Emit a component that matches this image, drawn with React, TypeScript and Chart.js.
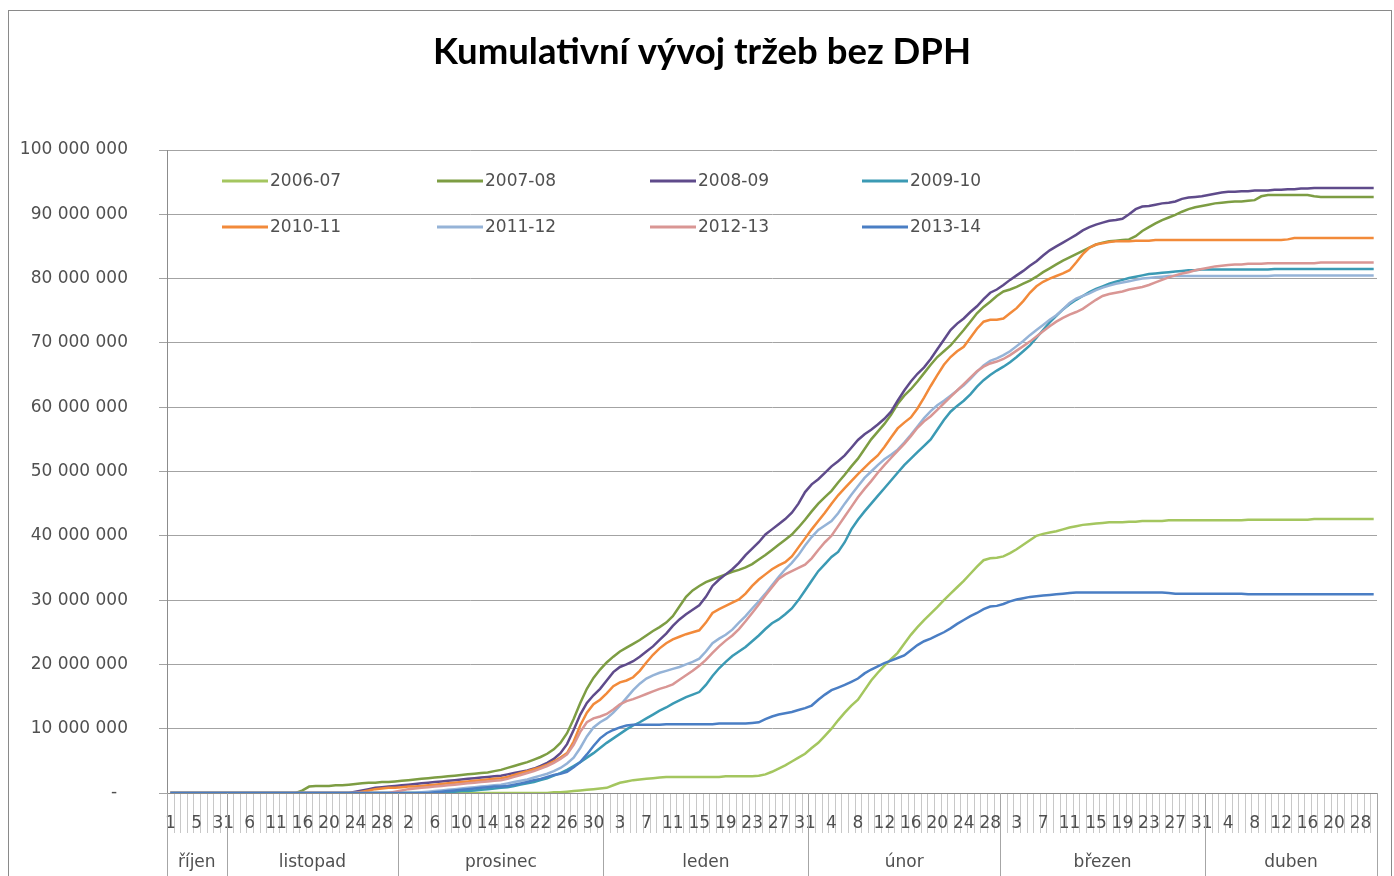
import { useEffect, useRef } from 'react';
import { Chart, registerables } from 'chart.js';

Chart.register(...registerables);

const TITLE = 'Kumulativní vývoj tržeb bez DPH';
const FONT = '"DejaVu Sans", sans-serif';
const TEXT_COLOR = '#505050';

const monthNames = ['říjen', 'listopad', 'prosinec', 'leden', 'únor', 'březen', 'duben'];
const octDays = [1, 2, 3, 4, 5, 6, 7, 8, 31];
const novDays = [2, 3, 5, 6, 7, 8, 9, 11, 12, 13, 14, 16, 17, 18, 19, 20, 21, 22, 23, 24, 25, 26, 27, 28, 29, 30];
const decDays = [1, 2, 3, 4, 5, 6, 7, 8, 9, 10, 11, 12, 13, 14, 15, 16, 17, 18, 19, 20, 21, 22, 23, 24, 25, 26, 27, 28, 29, 30, 31];
const janDays = [1, 2, 3, 4, 5, 6, 7, 8, 9, 10, 11, 12, 13, 14, 15, 16, 17, 18, 19, 20, 21, 22, 23, 24, 25, 26, 27, 28, 29, 30, 31];
const febDays = [1, 2, 3, 4, 5, 6, 7, 8, 9, 10, 11, 12, 13, 14, 15, 16, 17, 18, 19, 20, 21, 22, 23, 24, 25, 26, 27, 28, 29];
const marDays = [1, 2, 3, 4, 5, 6, 7, 8, 9, 10, 11, 12, 13, 14, 15, 16, 17, 18, 19, 20, 21, 22, 23, 24, 25, 26, 27, 28, 29, 30, 31];
const aprDays = [1, 2, 3, 4, 5, 6, 7, 8, 9, 10, 11, 12, 13, 14, 15, 16, 17, 18, 19, 20, 22, 24, 26, 28, 29, 30];
const daysByMonth = [octDays, novDays, decDays, janDays, febDays, marDays, aprDays];
const dayLabels = daysByMonth.flat().map(String);
const LABEL_EVERY = 4;

const seasonNames = ['2006-07', '2007-08', '2008-09', '2009-10', '2010-11', '2011-12', '2012-13', '2013-14'];
const seasonColors = ['#a4c65f', '#7d9d43', '#5f4b8b', '#3b9ab4', '#f28a3a', '#95b3d7', '#d99694', '#4a7ec4'];

// values in millions CZK, one per category (říjen 9, listopad 26, prosinec 31, leden 31, únor 29, březen 31, duben 26)
const s0607 = [
  0, 0, 0, 0, 0, 0, 0, 0, 0,
  0, 0, 0, 0, 0, 0, 0, 0, 0, 0, 0, 0, 0, 0, 0, 0, 0, 0, 0, 0, 0, 0, 0, 0, 0, 0,
  0, 0, 0, 0, 0, 0, 0, 0, 0, 0, 0, 0, 0, 0, 0, 0, 0, 0, 0, 0, 0, 0, 0, 0.1, 0.1, 0.2, 0.3, 0.4, 0.5, 0.6, 0.7,
  0.8, 1.2, 1.6, 1.8, 2.0, 2.1, 2.2, 2.3, 2.4, 2.5, 2.5, 2.5, 2.5, 2.5, 2.5, 2.5, 2.5, 2.5, 2.6, 2.6, 2.6, 2.6, 2.6, 2.7, 2.9, 3.3, 3.8, 4.3, 4.9, 5.5, 6.1,
  7.0, 7.8, 8.9, 10.0, 11.3, 12.5, 13.6, 14.5, 16.0, 17.5, 18.7, 19.8, 20.8, 21.8, 23.2, 24.6, 25.8, 26.9, 27.9, 28.9, 30.0, 31.0, 32.0, 33.0, 34.1, 35.2, 36.2, 36.5, 36.6,
  36.8, 37.3, 37.9, 38.6, 39.3, 40.0, 40.3, 40.5, 40.7, 41.0, 41.3, 41.5, 41.7, 41.8, 41.9, 42.0, 42.1, 42.1, 42.1, 42.2, 42.2, 42.3, 42.3, 42.3, 42.3, 42.4, 42.4, 42.4, 42.4, 42.4, 42.4,
  42.4, 42.4, 42.4, 42.4, 42.4, 42.4, 42.5, 42.5, 42.5, 42.5, 42.5, 42.5, 42.5, 42.5, 42.5, 42.5, 42.6, 42.6, 42.6, 42.6, 42.6, 42.6, 42.6, 42.6, 42.6, 42.6,
];
const s0708 = [
  0, 0, 0, 0, 0, 0, 0, 0, 0,
  0, 0, 0, 0, 0, 0, 0, 0, 0, 0, 0, 0.4, 1.0, 1.1, 1.1, 1.1, 1.2, 1.2, 1.3, 1.4, 1.5, 1.6, 1.6, 1.7, 1.7, 1.8,
  1.9, 2.0, 2.1, 2.2, 2.3, 2.4, 2.5, 2.6, 2.7, 2.8, 2.9, 3.0, 3.1, 3.2, 3.4, 3.6, 3.9, 4.2, 4.5, 4.8, 5.2, 5.6, 6.1, 6.8, 7.8, 9.3, 11.5, 14.0, 16.2, 17.9, 19.2,
  20.3, 21.2, 22.0, 22.6, 23.2, 23.8, 24.5, 25.2, 25.8, 26.5, 27.5, 29.0, 30.5, 31.5, 32.2, 32.8, 33.2, 33.6, 34.0, 34.4, 34.7, 35.1, 35.6, 36.3, 37.0, 37.8, 38.6, 39.4, 40.2, 41.3, 42.5,
  43.8, 45.0, 46.0, 47.0, 48.3, 49.5, 50.8, 52.0, 53.5, 55.0, 56.2, 57.4, 58.8, 60.5, 61.8, 62.8, 64.0, 65.3, 66.6, 67.8, 68.7, 69.6, 70.8, 72.0, 73.3, 74.6, 75.6, 76.4, 77.3,
  78.0, 78.3, 78.7, 79.2, 79.7, 80.3, 81.0, 81.6, 82.2, 82.8, 83.3, 83.8, 84.3, 84.8, 85.3, 85.6, 85.8, 85.9, 86.0, 86.1, 86.6, 87.4, 88.0, 88.6, 89.1, 89.5, 89.9, 90.4, 90.8, 91.1, 91.3,
  91.5, 91.7, 91.8, 91.9, 92.0, 92.0, 92.1, 92.2, 92.8, 93.0, 93.0, 93.0, 93.0, 93.0, 93.0, 93.0, 92.8, 92.7, 92.7, 92.7, 92.7, 92.7, 92.7, 92.7, 92.7, 92.7,
];
const s0809 = [
  0, 0, 0, 0, 0, 0, 0, 0, 0,
  0, 0, 0, 0, 0, 0, 0, 0, 0, 0, 0, 0, 0, 0, 0, 0, 0, 0, 0, 0.2, 0.4, 0.6, 0.8, 0.9, 1.0, 1.1,
  1.2, 1.3, 1.4, 1.5, 1.6, 1.7, 1.8, 1.9, 2.0, 2.1, 2.2, 2.3, 2.4, 2.5, 2.6, 2.7, 2.9, 3.1, 3.3, 3.5, 3.8, 4.2, 4.7, 5.3, 6.2, 7.6, 9.8, 12.2, 14.0, 15.2, 16.2,
  17.5, 18.8, 19.6, 20.0, 20.5, 21.2, 22.0, 22.8, 23.8, 24.8, 26.0, 27.0, 27.8, 28.5, 29.2, 30.5, 32.2, 33.2, 34.0, 34.8, 35.8, 37.0, 38.0, 39.0, 40.2, 41.0, 41.8, 42.6, 43.6, 45.0, 46.8,
  48.0, 48.8, 49.8, 50.8, 51.6, 52.5, 53.7, 54.9, 55.8, 56.5, 57.3, 58.2, 59.3, 61.0, 62.6, 64.0, 65.2, 66.2, 67.5, 69.0, 70.5, 72.0, 73.0, 73.8, 74.8, 75.7, 76.8, 77.8, 78.3,
  79.0, 79.8, 80.5, 81.2, 82.0, 82.7, 83.6, 84.4, 85.0, 85.6, 86.2, 86.8, 87.5, 88.0, 88.4, 88.7, 89.0, 89.1, 89.3, 90.0, 90.8, 91.2, 91.3, 91.5, 91.7, 91.8, 92.0, 92.4, 92.6, 92.7, 92.8,
  93.0, 93.2, 93.4, 93.5, 93.5, 93.6, 93.6, 93.7, 93.7, 93.7, 93.8, 93.8, 93.9, 93.9, 94.0, 94.0, 94.1, 94.1, 94.1, 94.1, 94.1, 94.1, 94.1, 94.1, 94.1, 94.1,
];
const s0910 = [
  0, 0, 0, 0, 0, 0, 0, 0, 0,
  0, 0, 0, 0, 0, 0, 0, 0, 0, 0, 0, 0, 0, 0, 0, 0, 0, 0, 0, 0, 0, 0, 0, 0, 0, 0,
  0, 0, 0, 0, 0, 0.1, 0.1, 0.2, 0.2, 0.3, 0.3, 0.4, 0.5, 0.6, 0.7, 0.8, 0.9, 1.1, 1.3, 1.5, 1.7, 2.0, 2.3, 2.7, 3.1, 3.6, 4.2, 4.8, 5.5, 6.2, 7.0,
  7.8, 8.5, 9.2, 9.9, 10.5, 11.0, 11.6, 12.2, 12.8, 13.3, 13.9, 14.4, 14.9, 15.3, 15.7, 16.8, 18.2, 19.4, 20.4, 21.3, 22.0, 22.7, 23.6, 24.5, 25.5, 26.4, 27.0, 27.8, 28.7, 30.0, 31.5,
  33.0, 34.5, 35.6, 36.7, 37.5, 39.0, 41.0, 42.5, 43.8, 45.0, 46.2, 47.4, 48.6, 49.8, 51.0, 52.0, 53.0, 54.0, 55.0, 56.5, 58.0, 59.3, 60.2, 61.0, 62.0, 63.2, 64.2, 65.0, 65.7,
  66.3, 67.0, 67.8, 68.7, 69.6, 70.8, 72.0, 73.2, 74.2, 75.2, 76.0, 76.7, 77.3, 77.9, 78.4, 78.8, 79.2, 79.5, 79.8, 80.1, 80.3, 80.5, 80.7, 80.8, 80.9, 81.0, 81.1, 81.2, 81.3, 81.3, 81.4,
  81.4, 81.4, 81.4, 81.4, 81.4, 81.4, 81.4, 81.4, 81.4, 81.4, 81.5, 81.5, 81.5, 81.5, 81.5, 81.5, 81.5, 81.5, 81.5, 81.5, 81.5, 81.5, 81.5, 81.5, 81.5, 81.5,
];
const s1011 = [
  0, 0, 0, 0, 0, 0, 0, 0, 0,
  0, 0, 0, 0, 0, 0, 0, 0, 0, 0, 0, 0, 0, 0, 0, 0, 0, 0, 0, 0, 0.2, 0.4, 0.6, 0.7, 0.8, 0.8,
  0.9, 1.0, 1.0, 1.1, 1.2, 1.3, 1.4, 1.5, 1.6, 1.7, 1.8, 1.9, 2.0, 2.1, 2.2, 2.3, 2.5, 2.8, 3.1, 3.4, 3.7, 4.0, 4.4, 4.9, 5.5, 6.2, 8.0, 10.5, 12.5, 13.8, 14.5,
  15.5, 16.6, 17.2, 17.5, 18.0, 19.0, 20.3, 21.5, 22.5, 23.3, 23.9, 24.3, 24.7, 25.0, 25.3, 26.5, 28.0, 28.6, 29.1, 29.6, 30.1, 31.0, 32.2, 33.2, 34.0, 34.8, 35.4, 35.9, 36.8, 38.2, 39.6,
  41.0, 42.3, 43.6, 45.0, 46.3, 47.4, 48.5, 49.6, 50.6, 51.6, 52.5, 53.8, 55.3, 56.7, 57.6, 58.4, 59.8, 61.5, 63.3, 65.0, 66.6, 67.8, 68.7, 69.4, 70.8, 72.2, 73.3, 73.6, 73.6,
  73.8, 74.6, 75.4, 76.5, 77.8, 78.8, 79.5, 80.0, 80.4, 80.8, 81.3, 82.5, 83.8, 84.8, 85.3, 85.5, 85.7, 85.8, 85.8, 85.8, 85.9, 85.9, 85.9, 86.0, 86.0, 86.0, 86.0, 86.0, 86.0, 86.0, 86.0,
  86.0, 86.0, 86.0, 86.0, 86.0, 86.0, 86.0, 86.0, 86.0, 86.0, 86.0, 86.0, 86.1, 86.3, 86.3, 86.3, 86.3, 86.3, 86.3, 86.3, 86.3, 86.3, 86.3, 86.3, 86.3, 86.3,
];
const s1112 = [
  0, 0, 0, 0, 0, 0, 0, 0, 0,
  0, 0, 0, 0, 0, 0, 0, 0, 0, 0, 0, 0, 0, 0, 0, 0, 0, 0, 0, 0, 0, 0, 0, 0, 0, 0,
  0, 0, 0, 0.1, 0.2, 0.3, 0.4, 0.5, 0.6, 0.7, 0.8, 0.9, 1.0, 1.1, 1.2, 1.3, 1.5, 1.7, 1.9, 2.1, 2.4, 2.7, 3.0, 3.4, 3.9, 4.6, 5.5, 7.0, 8.8, 10.2, 11.0,
  11.6, 12.5, 13.6, 14.8, 16.0, 17.0, 17.8, 18.3, 18.7, 19.0, 19.3, 19.6, 20.0, 20.4, 20.9, 22.0, 23.3, 24.0, 24.6, 25.4, 26.5, 27.5, 28.7, 29.8, 31.0, 32.3, 33.6, 34.8, 35.8, 37.0, 38.5,
  39.8, 40.9, 41.6, 42.3, 43.5, 45.0, 46.4, 47.7, 49.0, 50.0, 51.0, 51.9, 52.6, 53.4, 54.5, 55.7, 57.0, 58.3, 59.4, 60.3, 61.0, 61.8, 62.6, 63.4, 64.4, 65.5, 66.5, 67.2, 67.6,
  68.1, 68.7, 69.5, 70.3, 71.2, 72.0, 72.8, 73.6, 74.3, 75.2, 76.2, 76.9, 77.3, 77.7, 78.2, 78.6, 78.9, 79.2, 79.4, 79.6, 79.8, 80.0, 80.1, 80.2, 80.3, 80.4, 80.4, 80.4, 80.4, 80.4, 80.4,
  80.4, 80.4, 80.4, 80.4, 80.4, 80.4, 80.4, 80.4, 80.4, 80.4, 80.5, 80.5, 80.5, 80.5, 80.5, 80.5, 80.5, 80.5, 80.5, 80.5, 80.5, 80.5, 80.5, 80.5, 80.5, 80.5,
];
const s1213 = [
  0, 0, 0, 0, 0, 0, 0, 0, 0,
  0, 0, 0, 0, 0, 0, 0, 0, 0, 0, 0, 0, 0, 0, 0, 0, 0, 0, 0, 0, 0, 0, 0, 0, 0, 0.2,
  0.4, 0.6, 0.7, 0.8, 0.9, 1.0, 1.1, 1.2, 1.3, 1.4, 1.5, 1.6, 1.7, 1.8, 1.9, 2.0, 2.2, 2.5, 2.8, 3.1, 3.4, 3.8, 4.2, 4.7, 5.3, 6.0, 7.5, 9.5, 11.0, 11.6, 11.9,
  12.3, 13.0, 13.8, 14.3, 14.6, 15.0, 15.4, 15.8, 16.2, 16.5, 16.9, 17.6, 18.3, 19.0, 19.8, 20.7, 21.8, 22.8, 23.7, 24.5, 25.5, 26.7, 28.0, 29.3, 30.7, 32.0, 33.3, 34.0, 34.5, 35.0, 35.5,
  36.5, 37.8, 39.0, 40.0, 41.5, 43.0, 44.5, 46.0, 47.3, 48.5, 49.8, 51.0, 52.1, 53.2, 54.3, 55.5, 56.8, 57.8, 58.6, 59.6, 60.6, 61.6, 62.6, 63.6, 64.6, 65.6, 66.3, 66.8, 67.1,
  67.5, 68.1, 68.8, 69.5, 70.2, 71.0, 71.8, 72.6, 73.3, 73.9, 74.4, 74.8, 75.3, 76.0, 76.7, 77.3, 77.6, 77.8, 78.0, 78.3, 78.5, 78.7, 79.0, 79.4, 79.8, 80.2, 80.5, 80.8, 81.0, 81.3, 81.5,
  81.7, 81.9, 82.0, 82.1, 82.2, 82.2, 82.3, 82.3, 82.3, 82.4, 82.4, 82.4, 82.4, 82.4, 82.4, 82.4, 82.4, 82.5, 82.5, 82.5, 82.5, 82.5, 82.5, 82.5, 82.5, 82.5,
];
const s1314 = [
  0, 0, 0, 0, 0, 0, 0, 0, 0,
  0, 0, 0, 0, 0, 0, 0, 0, 0, 0, 0, 0, 0, 0, 0, 0, 0, 0, 0, 0, 0, 0, 0, 0, 0, 0,
  0, 0, 0, 0, 0, 0.1, 0.2, 0.3, 0.4, 0.5, 0.6, 0.7, 0.8, 0.9, 1.0, 1.0, 1.1, 1.3, 1.5, 1.7, 2.0, 2.2, 2.5, 2.8, 3.0, 3.3, 4.0, 4.8, 6.0, 7.3, 8.5,
  9.3, 9.8, 10.2, 10.5, 10.6, 10.6, 10.6, 10.6, 10.6, 10.7, 10.7, 10.7, 10.7, 10.7, 10.7, 10.7, 10.7, 10.8, 10.8, 10.8, 10.8, 10.8, 10.9, 11.0, 11.5, 11.9, 12.2, 12.4, 12.6, 12.9, 13.2,
  13.6, 14.5, 15.3, 16.0, 16.4, 16.8, 17.3, 17.8, 18.6, 19.2, 19.7, 20.2, 20.6, 21.0, 21.4, 22.2, 23.0, 23.6, 24.0, 24.5, 25.0, 25.6, 26.3, 26.9, 27.5, 28.0, 28.6, 29.0, 29.1,
  29.4, 29.8, 30.1, 30.3, 30.5, 30.6, 30.7, 30.8, 30.9, 31.0, 31.1, 31.2, 31.2, 31.2, 31.2, 31.2, 31.2, 31.2, 31.2, 31.2, 31.2, 31.2, 31.2, 31.2, 31.2, 31.1, 31.0, 31.0, 31.0, 31.0, 31.0,
  31.0, 31.0, 31.0, 31.0, 31.0, 31.0, 30.9, 30.9, 30.9, 30.9, 30.9, 30.9, 30.9, 30.9, 30.9, 30.9, 30.9, 30.9, 30.9, 30.9, 30.9, 30.9, 30.9, 30.9, 30.9, 30.9,
];
const seasonValues = [s0607, s0708, s0809, s0910, s1011, s1112, s1213, s1314];

const yTickStep = 10000000;
const yMax = 100000000;

function formatThousands(v: number): string {
  if (v === 0) return '-\u00a0\u00a0';
  return String(Math.round(v)).replace(/\B(?=(\d{3})+(?!\d))/g, ' ');
}

const decorPlugin = {
  id: 'excelDecor',
  beforeDraw(chart: any) {
    const { ctx, chartArea, scales } = chart;
    const x = scales.x;
    const n = dayLabels.length;
    const w = (chartArea.right - chartArea.left) / n;
    const y0 = chartArea.bottom;
    ctx.save();
    // outer frame
    ctx.strokeStyle = '#8a8a8a';
    ctx.lineWidth = 1;
    ctx.strokeRect(8.5, 10.5, 1383, 900);
    // title
    ctx.fillStyle = '#000';
    ctx.font = 'bold 36.5px Lato, sans-serif';
    ctx.textAlign = 'center';
    ctx.textBaseline = 'alphabetic';
    ctx.fillText(TITLE, 702, 64);
    // category tick lines
    ctx.strokeStyle = '#c8c8c8';
    ctx.beginPath();
    for (let i = 0; i <= n; i++) {
      const px = Math.round(x.getPixelForValue(Math.min(i, n - 1)) + (i === n ? w / 2 : -w / 2)) + 0.5;
      ctx.moveTo(px, y0);
      ctx.lineTo(px, y0 + 40);
    }
    ctx.stroke();
    ctx.restore();
  },
  afterDraw(chart: any) {
    const { ctx, chartArea, scales } = chart;
    const x = scales.x;
    const n = dayLabels.length;
    const w = (chartArea.right - chartArea.left) / n;
    const y0 = chartArea.bottom;
    ctx.save();
    // month dividers and labels
    let start = 0;
    const bounds: number[] = [0];
    daysByMonth.forEach((d) => {
      start += d.length;
      bounds.push(start);
    });
    const edge = (i: number) => x.getPixelForValue(Math.min(i, n - 1)) + (i === n ? w / 2 : -w / 2);
    ctx.strokeStyle = '#a6a6a6';
    ctx.lineWidth = 1;
    ctx.beginPath();
    bounds.forEach((b) => {
      const px = Math.round(edge(b)) + 0.5;
      ctx.moveTo(px, y0);
      ctx.lineTo(px, chart.height);
    });
    ctx.stroke();
    ctx.fillStyle = TEXT_COLOR;
    ctx.font = `17px ${FONT}`;
    ctx.textAlign = 'center';
    ctx.textBaseline = 'middle';
    monthNames.forEach((m, k) => {
      const cx = (edge(bounds[k]) + edge(bounds[k + 1])) / 2;
      ctx.fillText(m, cx, 863);
    });
    // legend (2 rows x 4 columns inside the plot)
    const colX = [222, 437, 650, 862];
    const rowY = [181, 227];
    ctx.textAlign = 'left';
    seasonNames.forEach((name, i) => {
      const lx = colX[i % 4];
      const ly = rowY[Math.floor(i / 4)];
      ctx.strokeStyle = seasonColors[i];
      ctx.lineWidth = 3;
      ctx.beginPath();
      ctx.moveTo(lx, ly);
      ctx.lineTo(lx + 46, ly);
      ctx.stroke();
      ctx.fillStyle = TEXT_COLOR;
      ctx.fillText(name, lx + 48, ly + 1);
    });
    ctx.restore();
  },
};

export default function App() {
  const ref = useRef<HTMLCanvasElement>(null);
  useEffect(() => {
    if (!ref.current) return;
    const chart = new Chart(ref.current, {
      type: 'line',
      data: {
        labels: dayLabels,
        datasets: seasonNames.map((name, i) => ({
          label: name,
          data: seasonValues[i].map((v) => v * 1000000),
          borderColor: seasonColors[i],
          backgroundColor: seasonColors[i],
          borderWidth: 2.5,
          pointRadius: 0,
          tension: 0,
          fill: false,
          order: seasonNames.length - i,
        })),
      },
      options: {
        responsive: false,
        animation: false,
        layout: { padding: { left: 0, right: 17, top: 150, bottom: 0 } },
        plugins: {
          legend: { display: false },
          tooltip: { enabled: false },
          title: { display: false },
        },
        scales: {
          x: {
            type: 'category',
            offset: true,
            grid: { display: false, drawTicks: false },
            border: { display: true, color: '#8c8c8c' },
            ticks: {
              autoSkip: false,
              maxRotation: 0,
              minRotation: 0,
              padding: 20,
              color: TEXT_COLOR,
              font: { family: FONT, size: 17 },
              callback: (_v: any, i: number) => (i % LABEL_EVERY === 0 ? dayLabels[i] : ''),
            },
            afterFit: (s: any) => {
              s.height = 83;
            },
          },
          y: {
            min: 0,
            max: yMax,
            grid: { color: '#a3a3a3', tickLength: 8, tickColor: '#a3a3a3' },
            border: { display: true, color: '#8c8c8c' },
            ticks: {
              stepSize: yTickStep,
              padding: 31,
              color: TEXT_COLOR,
              font: { family: FONT, size: 17 },
              callback: (v: any) => formatThousands(Number(v)),
            },
            afterFit: (s: any) => {
              s.width = 167;
            },
          },
        },
      },
      plugins: [decorPlugin],
    });
    return () => chart.destroy();
  }, []);
  return (
    <div style={{ position: 'fixed', left: 0, top: 0, width: 1394, height: 876, background: '#fff' }}>
      <canvas ref={ref} width={1394} height={876} style={{ display: 'block', width: 1394, height: 876 }} />
    </div>
  );
}
